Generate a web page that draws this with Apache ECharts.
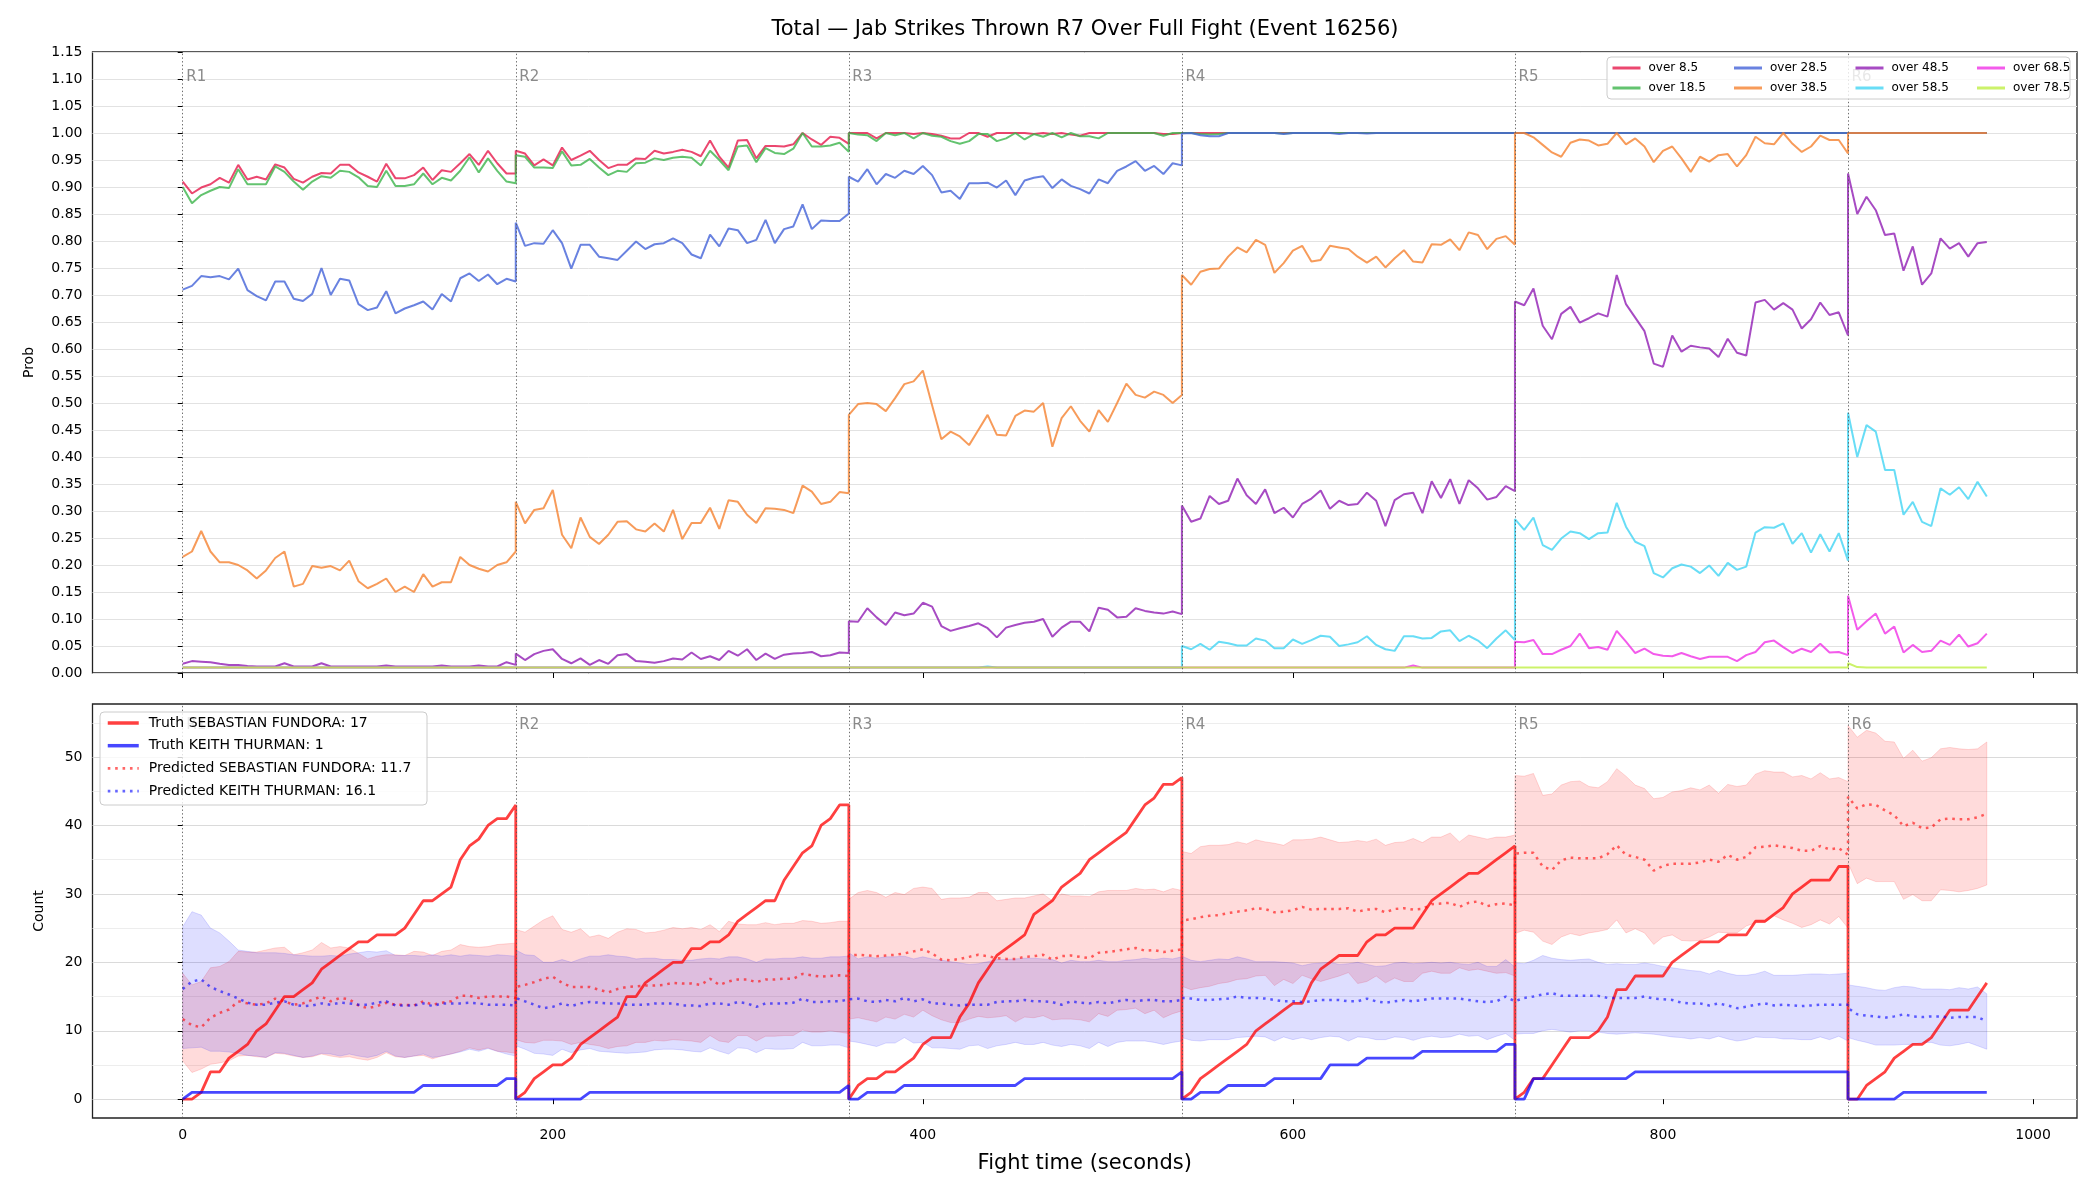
<!DOCTYPE html>
<html>
<head>
<meta charset="utf-8">
<title>Jab Strikes Thrown R7</title>
<script src="https://cdn.jsdelivr.net/npm/echarts@6.0.0/dist/echarts.min.js"></script>
<style>
  html, body { margin: 0; padding: 0; background: #fff; }
  #chart { width: 2100px; height: 1200px; }
</style>
</head>
<body>
<div id="chart"></div>
<script>
// fight timeline: samples every 5 s inside each round, round boundaries repeated
const roundStarts = [0, 180, 360, 540, 720, 900];
const roundNames = ["R1", "R2", "R3", "R4", "R5", "R6"];
const stepSec = 5;
const timeTicks = [0, 200, 400, 600, 800, 1000];
const countTicks = [0, 10, 20, 30, 40, 50];

// ---- top panel: P(total jabs > line), one list per round ----
const over85 = [
  [0.91,0.888,0.899,0.905,0.917,0.908,0.941,0.914,0.919,0.914,0.942,0.936,0.915,0.908,0.919,0.926,0.925,0.941,0.941,0.927,0.919,0.91,0.943,0.916,0.916,0.922,0.936,0.913,0.931,0.928,0.944,0.961,0.941,0.967,0.944,0.925,0.925],
  [0.967,0.962,0.94,0.951,0.94,0.973,0.95,0.958,0.967,0.95,0.935,0.941,0.941,0.953,0.952,0.967,0.962,0.965,0.969,0.965,0.957,0.986,0.956,0.936,0.986,0.987,0.953,0.976,0.976,0.975,0.979,1.0,0.988,0.978,0.993,0.991,0.98],
  [1,1,1,0.99,1,1,1,0.998,1,0.998,0.995,0.99,0.99,1,1,0.993,1,1,1,1,0.998,1,0.998,1,0.997,0.995,1,1,1,1,1,1,1,1,0.998,0.998,1],
  [1,1,1,1,1,1,1,1,1,1,1,1,1,1,1,1,1,1,1,1,1,1,1,1,1,1,1,1,1,1,1,1,1,1,1,1,1],
  [1,1,1,1,1,1,1,1,1,1,1,1,1,1,1,1,1,1,1,1,1,1,1,1,1,1,1,1,1,1,1,1,1,1,1,1,1],
  [1,1,1,1,1,1,1,1,1,1,1,1,1,1,1,1]
];
const over185 = [
  [0.90,0.87,0.885,0.893,0.90,0.898,0.933,0.905,0.905,0.905,0.938,0.928,0.91,0.895,0.91,0.92,0.917,0.93,0.928,0.918,0.902,0.90,0.93,0.902,0.902,0.905,0.925,0.905,0.917,0.912,0.93,0.955,0.927,0.953,0.93,0.91,0.907],
  [0.959,0.956,0.936,0.936,0.935,0.966,0.94,0.941,0.952,0.936,0.922,0.93,0.928,0.944,0.945,0.953,0.95,0.954,0.956,0.954,0.94,0.967,0.95,0.931,0.975,0.977,0.946,0.972,0.963,0.961,0.971,1.0,0.975,0.975,0.977,0.982,0.965],
  [1.0,0.997,0.996,0.985,1.0,0.996,1.0,0.99,1.0,0.995,0.993,0.985,0.98,0.985,0.998,0.998,0.985,0.99,1.0,0.988,0.998,0.993,1.0,0.992,1.0,0.994,0.994,0.99,1.0,1.0,1.0,1.0,1.0,1.0,0.995,1.0,1.0],
  [1,1,0.998,0.997,0.998,1,1,1,1,1,1,0.999,1,1,1,1,1,1,1,1,1,1,1,1,1,1,1,1,1,1,1,1,1,1,1,1,1],
  [1,1,1,1,1,1,1,1,1,1,1,1,1,1,1,1,1,1,1,1,1,1,1,1,1,1,1,1,1,1,1,1,1,1,1,1,1],
  [1,1,1,1,1,1,1,1,1,1,1,1,1,1,1,1]
];
const over285 = [
  [0.71,0.717,0.735,0.733,0.735,0.729,0.749,0.709,0.698,0.69,0.725,0.725,0.693,0.689,0.702,0.75,0.70,0.73,0.727,0.683,0.672,0.677,0.707,0.666,0.675,0.681,0.688,0.673,0.702,0.688,0.731,0.74,0.726,0.738,0.72,0.73,0.725],
  [0.834,0.791,0.796,0.795,0.82,0.796,0.749,0.793,0.793,0.771,0.768,0.765,0.782,0.799,0.785,0.794,0.796,0.805,0.796,0.775,0.768,0.812,0.79,0.823,0.82,0.796,0.802,0.839,0.796,0.822,0.827,0.868,0.822,0.838,0.837,0.837,0.851],
  [0.919,0.91,0.933,0.905,0.924,0.917,0.93,0.924,0.939,0.922,0.89,0.893,0.878,0.907,0.907,0.908,0.899,0.912,0.885,0.912,0.917,0.92,0.898,0.914,0.902,0.896,0.888,0.914,0.907,0.93,0.938,0.948,0.93,0.939,0.924,0.944,0.94],
  [0.999,1,0.996,0.994,0.994,1,1,1,1,1,1,0.998,1,1,1,1,1,0.998,1,1,0.999,1,1,1,1,1,1,1,1,1,1,1,1,1,1,1,1],
  [0.999,1,1,1,1,1,1,1,1,1,1,1,1,1,1,1,1,1,1,1,1,1,1,1,1,1,1,1,1,1,1,1,1,1,1,1,1],
  [1,1,1,1,1,1,1,1,1,1,1,1,1,1,1,1]
];
const over385 = [
  [0.215,0.225,0.263,0.225,0.205,0.205,0.2,0.19,0.175,0.19,0.213,0.225,0.16,0.165,0.198,0.195,0.198,0.19,0.208,0.17,0.157,0.165,0.175,0.15,0.16,0.15,0.183,0.16,0.168,0.168,0.215,0.2,0.193,0.188,0.2,0.205,0.225],
  [0.317,0.277,0.302,0.305,0.339,0.256,0.231,0.288,0.252,0.239,0.256,0.28,0.281,0.266,0.262,0.277,0.262,0.302,0.248,0.278,0.278,0.306,0.267,0.32,0.317,0.293,0.278,0.305,0.304,0.302,0.296,0.347,0.336,0.313,0.317,0.335,0.333],
  [0.478,0.498,0.50,0.498,0.485,0.509,0.535,0.54,0.56,0.496,0.433,0.447,0.438,0.422,0.45,0.478,0.441,0.44,0.476,0.486,0.484,0.50,0.419,0.472,0.494,0.467,0.447,0.487,0.465,0.50,0.536,0.515,0.51,0.521,0.515,0.50,0.515],
  [0.737,0.719,0.743,0.748,0.749,0.771,0.788,0.779,0.802,0.793,0.741,0.759,0.782,0.791,0.762,0.765,0.791,0.788,0.785,0.771,0.76,0.771,0.751,0.768,0.783,0.762,0.76,0.794,0.793,0.803,0.783,0.816,0.811,0.785,0.804,0.809,0.793],
  [1.0,1.0,0.992,0.978,0.964,0.956,0.982,0.988,0.986,0.977,0.98,1.0,0.979,0.99,0.975,0.946,0.967,0.975,0.953,0.928,0.956,0.947,0.959,0.961,0.938,0.959,0.993,0.981,0.979,1.0,0.98,0.965,0.975,0.995,0.987,0.987,0.962],
  [1,1,1,1,1,1,1,1,1,1,1,1,1,1,1,1]
];
const over485 = [
  [0.017,0.022,0.021,0.02,0.017,0.015,0.015,0.013,0.012,0.012,0.012,0.018,0.012,0.012,0.012,0.018,0.012,0.012,0.012,0.012,0.012,0.012,0.014,0.012,0.012,0.012,0.012,0.012,0.014,0.012,0.012,0.012,0.014,0.012,0.012,0.02,0.015],
  [0.036,0.024,0.035,0.041,0.044,0.026,0.018,0.027,0.015,0.024,0.017,0.033,0.035,0.022,0.021,0.019,0.022,0.027,0.025,0.038,0.026,0.031,0.024,0.041,0.032,0.044,0.024,0.036,0.026,0.034,0.036,0.037,0.039,0.031,0.033,0.038,0.037],
  [0.096,0.095,0.12,0.103,0.089,0.112,0.107,0.11,0.13,0.123,0.087,0.078,0.083,0.087,0.092,0.083,0.066,0.084,0.089,0.093,0.095,0.1,0.067,0.084,0.095,0.095,0.077,0.121,0.117,0.103,0.104,0.12,0.115,0.112,0.11,0.114,0.109],
  [0.31,0.28,0.286,0.328,0.313,0.319,0.36,0.329,0.313,0.34,0.296,0.306,0.288,0.313,0.323,0.338,0.304,0.319,0.311,0.313,0.334,0.319,0.272,0.32,0.331,0.334,0.296,0.355,0.324,0.359,0.313,0.357,0.342,0.321,0.326,0.346,0.337],
  [0.688,0.681,0.712,0.643,0.618,0.665,0.678,0.649,0.657,0.666,0.66,0.737,0.683,0.658,0.633,0.573,0.567,0.625,0.595,0.606,0.603,0.601,0.585,0.619,0.593,0.588,0.686,0.691,0.673,0.685,0.673,0.638,0.655,0.686,0.663,0.668,0.625],
  [0.925,0.85,0.882,0.857,0.811,0.814,0.745,0.79,0.719,0.74,0.805,0.786,0.796,0.771,0.796,0.798]
];
const over585 = [
  [0.01,0.01,0.01,0.01,0.01,0.01,0.01,0.01,0.01,0.01,0.01,0.01,0.01,0.01,0.01,0.01,0.01,0.01,0.01,0.01,0.01,0.01,0.01,0.01,0.01,0.01,0.01,0.01,0.01,0.01,0.01,0.01,0.01,0.01,0.01,0.01,0.01],
  [0.01,0.01,0.01,0.01,0.01,0.01,0.01,0.01,0.01,0.01,0.01,0.01,0.01,0.01,0.01,0.01,0.01,0.01,0.01,0.01,0.01,0.01,0.01,0.01,0.01,0.01,0.01,0.01,0.01,0.01,0.01,0.01,0.01,0.01,0.01,0.01,0.01],
  [0.01,0.01,0.01,0.01,0.01,0.01,0.01,0.01,0.01,0.01,0.01,0.01,0.01,0.01,0.01,0.012,0.01,0.01,0.01,0.01,0.01,0.01,0.01,0.01,0.01,0.01,0.01,0.01,0.01,0.01,0.01,0.01,0.01,0.01,0.01,0.01,0.01],
  [0.05,0.044,0.054,0.043,0.058,0.055,0.051,0.051,0.064,0.06,0.046,0.046,0.062,0.054,0.061,0.069,0.067,0.05,0.053,0.057,0.068,0.052,0.044,0.041,0.068,0.068,0.064,0.065,0.077,0.079,0.059,0.069,0.06,0.046,0.064,0.079,0.061],
  [0.285,0.265,0.288,0.237,0.228,0.249,0.262,0.259,0.248,0.259,0.26,0.315,0.271,0.243,0.235,0.185,0.177,0.194,0.201,0.197,0.185,0.199,0.18,0.204,0.191,0.197,0.26,0.27,0.269,0.277,0.239,0.259,0.223,0.257,0.225,0.259,0.208],
  [0.482,0.40,0.459,0.447,0.376,0.376,0.293,0.317,0.28,0.272,0.342,0.33,0.344,0.322,0.354,0.327]
];
const over685 = [
  [0.01,0.01,0.01,0.01,0.01,0.01,0.01,0.01,0.01,0.01,0.01,0.01,0.01,0.01,0.01,0.01,0.01,0.01,0.01,0.01,0.01,0.01,0.01,0.01,0.01,0.01,0.01,0.01,0.01,0.01,0.01,0.01,0.01,0.01,0.01,0.01,0.01],
  [0.01,0.01,0.01,0.01,0.01,0.01,0.01,0.01,0.01,0.01,0.01,0.01,0.01,0.01,0.01,0.01,0.01,0.01,0.01,0.01,0.01,0.01,0.01,0.01,0.01,0.01,0.01,0.01,0.01,0.01,0.01,0.01,0.01,0.01,0.01,0.01,0.01],
  [0.01,0.01,0.01,0.01,0.01,0.01,0.01,0.01,0.01,0.01,0.01,0.01,0.01,0.01,0.01,0.01,0.01,0.01,0.01,0.01,0.01,0.01,0.01,0.01,0.01,0.01,0.01,0.01,0.01,0.01,0.01,0.01,0.01,0.01,0.01,0.01,0.01],
  [0.01,0.01,0.01,0.01,0.01,0.01,0.01,0.01,0.01,0.01,0.01,0.01,0.01,0.01,0.01,0.01,0.01,0.01,0.01,0.01,0.01,0.01,0.01,0.01,0.01,0.014,0.01,0.01,0.01,0.01,0.01,0.01,0.01,0.01,0.01,0.01,0.01],
  [0.058,0.057,0.061,0.035,0.035,0.043,0.05,0.073,0.046,0.048,0.043,0.078,0.058,0.037,0.045,0.035,0.032,0.031,0.037,0.031,0.026,0.03,0.03,0.03,0.022,0.033,0.039,0.057,0.06,0.048,0.037,0.045,0.039,0.054,0.038,0.039,0.033],
  [0.143,0.08,0.096,0.11,0.073,0.086,0.038,0.052,0.039,0.041,0.06,0.052,0.071,0.049,0.055,0.073]
];
const over785 = [
  [0.01,0.01,0.01,0.01,0.01,0.01,0.01,0.01,0.01,0.01,0.01,0.01,0.01,0.01,0.01,0.01,0.01,0.01,0.01,0.01,0.01,0.01,0.01,0.01,0.01,0.01,0.01,0.01,0.01,0.01,0.01,0.01,0.01,0.01,0.01,0.01,0.01],
  [0.01,0.01,0.01,0.01,0.01,0.01,0.01,0.01,0.01,0.01,0.01,0.01,0.01,0.01,0.01,0.01,0.01,0.01,0.01,0.01,0.01,0.01,0.01,0.01,0.01,0.01,0.01,0.01,0.01,0.01,0.01,0.01,0.01,0.01,0.01,0.01,0.01],
  [0.01,0.01,0.01,0.01,0.01,0.01,0.01,0.01,0.01,0.01,0.01,0.01,0.01,0.01,0.01,0.01,0.01,0.01,0.01,0.01,0.01,0.01,0.01,0.01,0.01,0.01,0.01,0.01,0.01,0.01,0.01,0.01,0.01,0.01,0.01,0.01,0.01],
  [0.01,0.01,0.01,0.01,0.01,0.01,0.01,0.01,0.01,0.01,0.01,0.01,0.01,0.01,0.01,0.01,0.01,0.01,0.01,0.01,0.01,0.01,0.01,0.01,0.01,0.01,0.01,0.01,0.01,0.01,0.01,0.01,0.01,0.01,0.01,0.01,0.01],
  [0.01,0.01,0.01,0.01,0.01,0.01,0.01,0.01,0.01,0.01,0.01,0.01,0.01,0.01,0.01,0.01,0.01,0.01,0.01,0.01,0.01,0.01,0.01,0.01,0.01,0.01,0.01,0.01,0.01,0.01,0.01,0.01,0.01,0.01,0.01,0.01,0.01],
  [0.018,0.011,0.01,0.01,0.01,0.01,0.01,0.01,0.01,0.01,0.01,0.01,0.01,0.01,0.01,0.01]
];

// ---- bottom panel: cumulative jabs per round ----
const truthFundora = [
  [0,0,1,4,4,6,7,8,10,11,13,15,15,16,17,19,20,21,22,23,23,24,24,24,25,27,29,29,30,31,35,37,38,40,41,41,43],
  [0,1,3,4,5,5,6,8,9,10,11,12,15,15,17,18,19,20,20,22,22,23,23,24,26,27,28,29,29,32,34,36,37,40,41,43,43],
  [0,2,3,3,4,4,5,6,8,9,9,9,12,14,17,19,21,22,23,24,27,28,29,31,32,33,35,36,37,38,39,41,43,44,46,46,47],
  [0,1,3,4,5,6,7,8,10,11,12,13,14,14,17,19,20,21,21,21,23,24,24,25,25,25,27,29,30,31,32,33,33,34,35,36,37],
  [0,1,3,3,5,7,9,9,9,10,12,16,16,18,18,18,18,20,21,22,23,23,23,24,24,24,26,26,27,28,30,31,32,32,32,34,34],
  [0,0,2,3,4,6,7,8,8,9,11,13,13,13,15,17]
];
const truthThurman = [
  [0,1,1,1,1,1,1,1,1,1,1,1,1,1,1,1,1,1,1,1,1,1,1,1,1,1,2,2,2,2,2,2,2,2,2,3,3],
  [0,0,0,0,0,0,0,0,1,1,1,1,1,1,1,1,1,1,1,1,1,1,1,1,1,1,1,1,1,1,1,1,1,1,1,1,2],
  [0,0,1,1,1,1,2,2,2,2,2,2,2,2,2,2,2,2,2,3,3,3,3,3,3,3,3,3,3,3,3,3,3,3,3,3,4],
  [0,0,1,1,1,2,2,2,2,2,3,3,3,3,3,3,5,5,5,5,6,6,6,6,6,6,7,7,7,7,7,7,7,7,7,8,8],
  [0,0,3,3,3,3,3,3,3,3,3,3,3,4,4,4,4,4,4,4,4,4,4,4,4,4,4,4,4,4,4,4,4,4,4,4,4],
  [0,0,0,0,0,0,1,1,1,1,1,1,1,1,1,1]
];
const predFundora = [
  [11.7,10.8,10.5,11.9,12.6,13.1,14.3,14.0,13.8,14.0,14.7,14.3,13.8,14.0,14.5,15.0,14.3,14.8,14.6,13.7,13.3,13.6,14.1,13.8,13.8,13.7,14.3,13.8,14.1,14.3,15.1,15.1,14.8,15.0,15.0,15.0,14.8],
  [16.4,16.7,17.1,17.6,17.9,17.0,16.4,16.4,16.4,16.0,15.6,16.1,16.4,16.5,16.6,16.6,16.7,17.0,16.9,16.9,16.7,17.6,16.7,17.2,17.5,17.5,17.1,17.5,17.5,17.6,17.6,18.3,18.1,17.9,18.0,18.1,18.0],
  [21.0,21.1,21.0,20.9,21.0,21.1,21.3,21.6,21.9,21.3,20.4,20.3,20.5,20.8,21.1,20.9,20.6,20.5,20.5,20.8,20.9,21.1,20.4,20.9,21.0,20.8,20.6,21.4,21.5,21.7,21.9,22.1,21.7,21.8,21.5,21.7,21.9],
  [26.1,26.3,26.6,26.8,26.9,27.2,27.4,27.6,27.9,27.8,27.3,27.4,27.6,28.1,27.7,27.8,27.8,27.8,27.9,27.4,27.7,27.8,27.3,27.8,27.9,27.7,27.8,28.5,28.6,28.7,28.1,28.7,28.9,28.2,28.5,28.6,28.3],
  [35.9,36.0,36.0,34.0,33.5,34.9,35.3,35.2,35.2,35.2,35.8,37.1,35.7,35.4,35.0,33.4,34.1,34.4,34.4,34.4,34.6,35.0,34.7,35.7,35.0,35.4,36.8,36.9,37.1,36.9,36.7,36.3,36.3,37.0,36.5,36.7,35.7],
  [44.2,42.5,43.1,43.0,42.2,41.5,39.9,40.4,39.6,39.7,40.9,41.0,40.9,40.9,41.2,41.7]
];
const predThurman = [
  [16.1,17.2,17.5,16.4,15.8,15.3,14.7,14.1,13.8,13.8,14.1,14.3,13.8,13.6,13.7,14.0,13.8,14.1,14.0,13.8,13.8,14.1,14.3,13.7,13.7,13.7,14.0,13.6,14.0,14.0,14.0,14.1,14.0,13.8,13.8,13.8,13.7],
  [14.8,14.3,13.8,13.3,13.5,14.0,13.6,14.0,14.2,14.1,14.0,14.0,13.8,13.8,13.8,14.0,14.0,14.0,13.7,13.7,13.6,14.0,14.0,13.8,14.2,14.0,13.5,14.0,14.0,14.0,14.1,14.7,14.2,14.2,14.3,14.3,14.6],
  [14.6,14.7,14.3,14.2,14.5,14.3,14.8,14.3,14.6,14.0,14.0,13.8,13.7,13.8,13.8,13.8,14.2,14.3,14.3,14.5,14.3,14.3,14.2,13.8,14.3,14.1,14.0,14.2,14.0,14.3,14.5,14.3,14.5,14.5,14.3,14.3,14.5],
  [14.8,14.7,14.5,14.5,14.6,14.7,15.0,14.8,14.8,14.7,14.5,14.3,14.3,14.2,14.3,14.5,14.5,14.5,14.3,14.3,14.7,14.3,14.1,14.3,14.5,14.3,14.5,14.7,14.7,14.7,14.7,14.5,14.3,14.2,14.3,15.0,14.3],
  [14.2,14.8,15.0,15.3,15.5,15.1,15.1,15.1,15.1,15.1,14.8,14.8,14.8,14.8,15.0,14.7,14.6,14.5,14.1,14.0,14.0,13.7,14.0,13.7,13.3,13.5,13.8,14.0,13.7,13.8,13.7,13.6,13.7,13.8,13.8,13.8,13.8],
  [13.3,12.4,12.2,12.1,11.9,12.1,12.4,12.1,12.0,12.1,12.1,11.9,12.0,12.0,12.0,11.4]
];
const bandFundoraLow = [
  [5.6,3.9,4.4,5.1,5.3,5.6,6.3,6.4,6.2,6.1,6.7,6.6,6.3,6.1,6.2,6.6,6.3,6.1,6.2,5.9,5.7,6.1,6.8,6.2,6.1,6.3,6.4,5.9,6.3,6.6,7.0,7.5,7.2,7.5,7.0,6.9,6.7],
  [8.7,8.3,8.2,8.6,8.6,8.5,8.0,8.3,8.0,7.8,7.4,7.7,7.8,8.3,8.3,8.6,8.5,8.7,8.6,8.5,8.3,9.3,8.5,8.3,9.3,9.3,8.5,9.2,9.2,9.3,9.3,10.1,9.8,9.8,10.0,9.8,9.6],
  [11.7,11.9,11.6,11.3,12.0,11.7,12.4,12.0,13.0,12.2,11.6,11.2,11.2,11.7,12.1,11.9,12.0,12.2,11.3,12.0,11.9,12.2,11.6,11.7,11.7,11.6,11.3,12.5,12.1,13.0,13.1,13.3,12.5,13.0,11.9,12.5,12.9],
  [16.5,16.0,16.3,16.5,16.9,17.1,17.5,17.6,18.0,18.1,16.6,17.5,16.9,18.1,17.6,17.2,17.6,18.0,18.5,16.9,17.2,18.0,17.0,17.7,17.2,17.2,18.4,18.7,18.4,18.4,19.2,18.8,19.0,18.7,18.4,18.5,18.0],
  [24.2,24.7,24.4,23.1,22.6,23.7,24.2,23.9,24.3,24.5,24.8,26.2,24.3,24.9,24.3,22.6,23.7,24.0,23.2,23.1,23.2,23.7,24.4,24.3,24.3,25.3,25.8,25.8,26.8,26.2,25.7,25.1,25.5,26.2,25.6,26.7,25.0],
  [34.5,31.5,32.3,31.8,31.8,31.8,29.2,29.9,29.0,29.0,30.6,30.5,30.3,30.5,30.8,31.3]
];
const bandFundoraHigh = [
  [18.4,16.7,17.2,19.2,19.4,20.1,21.6,21.5,21.5,21.8,22.1,22.2,21.1,21.4,21.8,22.9,22.1,22.3,22.1,21.3,20.5,20.9,21.1,21.1,21.0,21.6,21.5,21.0,21.6,21.8,22.6,22.3,22.2,22.3,22.6,22.7,22.8],
  [24.8,24.4,25.3,26.2,26.8,24.8,24.4,24.9,23.7,24.0,23.5,24.4,24.9,24.8,24.3,24.4,24.7,25.1,24.9,25.1,24.8,25.5,24.5,26.0,25.6,25.5,25.5,25.8,25.5,25.7,25.7,26.1,26.0,25.7,25.8,26.0,26.0],
  [29.2,30.2,30.5,30.2,29.5,30.2,29.9,30.8,31.0,30.8,29.2,29.4,29.4,29.5,30.2,30.2,29.0,29.2,29.4,29.4,29.7,30.0,29.0,30.0,29.7,29.7,29.6,30.3,30.5,30.5,30.5,30.8,30.6,30.7,30.3,30.8,30.5],
  [36.2,35.9,36.9,37.1,37.1,37.2,37.6,37.3,37.9,37.6,37.4,37.1,37.9,37.9,38.0,38.3,37.9,37.5,37.6,37.8,37.6,38.0,37.1,37.5,37.6,38.1,37.5,38.3,38.3,38.9,37.6,38.6,38.3,38.0,38.3,38.3,38.6],
  [47.3,47.2,47.6,44.4,44.6,45.9,46.4,46.5,45.7,45.5,46.4,48.3,47.2,45.9,45.4,43.9,44.1,44.9,45.1,45.5,45.2,45.9,44.7,46.0,45.7,45.9,47.5,48.0,47.8,47.8,47.1,47.3,46.8,47.7,46.8,47.0,46.4],
  [54.6,52.9,53.9,53.5,52.3,52.2,49.8,51.0,49.4,49.9,51.2,51.4,51.2,51.1,51.2,52.2]
];
const bandThurmanLow = [
  [7.4,7.5,7.6,7.0,7.0,6.9,6.7,6.4,6.3,6.1,6.8,6.7,6.4,6.1,6.3,6.7,6.6,6.3,6.6,6.3,6.1,6.4,7.0,6.3,6.1,6.3,6.6,6.1,6.3,6.6,6.9,7.3,7.0,7.4,7.0,6.6,6.3],
  [7.8,7.3,6.7,6.6,6.4,7.3,6.8,7.2,7.4,7.0,6.9,6.8,6.7,6.8,6.9,7.2,7.3,7.3,7.2,7.0,6.9,7.5,7.0,6.6,7.5,7.4,6.8,7.4,7.3,7.3,7.4,8.3,7.8,7.8,7.9,7.9,7.5],
  [8.5,8.3,8.0,7.7,8.2,8.2,9.0,8.2,8.3,7.5,7.5,7.4,7.3,7.8,7.9,7.4,7.8,8.0,8.3,8.0,8.0,8.3,7.9,7.7,8.0,7.8,7.4,8.3,7.7,8.3,8.5,8.5,8.5,8.3,8.0,8.3,8.5],
  [9.0,8.6,8.5,8.7,8.7,8.7,9.0,9.1,9.2,9.1,8.5,9.1,8.7,9.0,8.7,9.0,9.2,9.1,8.5,9.1,9.0,8.7,8.7,9.1,9.0,8.6,9.0,9.2,9.0,9.1,9.5,9.2,9.3,8.7,9.2,9.6,8.6],
  [9.5,9.6,9.6,10.0,10.2,10.0,9.8,10.0,10.0,9.8,9.6,9.5,9.6,9.7,9.6,9.5,9.3,9.1,9.0,8.8,9.0,8.8,9.2,8.8,8.5,8.7,9.1,9.0,9.0,8.8,8.8,8.7,8.7,9.1,8.7,9.2,8.5],
  [9.0,8.6,8.3,7.9,7.9,7.9,8.0,8.0,8.3,8.3,7.9,7.8,8.0,8.3,7.8,7.3]
];
const bandThurmanHigh = [
  [25.2,27.4,26.9,25.0,24.3,23.1,21.8,21.6,21.4,21.4,21.4,21.3,21.1,21.0,20.9,20.9,21.0,20.9,21.2,21.4,21.6,21.5,21.7,21.0,21.0,21.0,20.9,21.1,20.9,21.1,20.9,21.1,21.0,20.9,21.1,21.0,20.9],
  [21.8,21.1,21.0,20.0,20.0,20.4,20.0,20.5,20.9,20.9,21.1,20.9,20.8,20.5,20.6,20.6,20.4,20.4,20.3,20.3,20.5,20.6,20.5,20.8,20.8,20.5,20.0,20.5,20.5,20.6,20.6,20.8,20.6,20.6,20.8,20.8,20.9],
  [21.4,20.5,20.8,20.6,20.8,20.8,20.9,20.5,20.8,20.5,20.3,20.1,19.9,19.7,19.8,20.1,20.4,20.4,20.5,20.6,20.6,20.5,20.4,19.9,20.3,20.1,20.1,20.3,20.1,20.1,20.3,20.4,20.6,20.4,20.6,20.5,20.8],
  [20.9,20.3,20.1,20.3,20.5,20.4,20.8,20.5,20.1,20.1,20.1,20.0,19.9,19.5,19.8,19.9,20.0,19.7,19.8,20.0,19.7,19.4,19.5,19.9,20.0,19.8,19.9,20.0,19.9,20.0,19.8,19.7,20.0,19.4,19.4,20.4,19.3],
  [19.9,19.8,20.3,21.0,20.6,20.4,20.3,20.4,20.5,20.0,19.7,19.8,19.7,19.7,19.9,19.7,19.4,19.2,19.0,18.8,18.7,18.3,18.8,18.4,18.1,18.1,18.3,18.7,18.1,18.1,18.1,18.2,18.3,18.3,18.2,18.3,18.4],
  [16.7,16.5,16.3,16.0,15.9,16.3,16.5,16.4,16.1,16.1,16.1,16.0,16.3,16.1,16.4,15.4]
];

const FONT = "DejaVu Sans";

// attach the sample time to each value, round by round
function withTime(rounds) {
  const out = [];
  rounds.forEach((vals, r) => {
    vals.forEach((v, i) => out.push([roundStarts[r] + i * stepSec, v]));
  });
  return out;
}

const probLines = [
  ["over 8.5", over85, "#e6194b"],
  ["over 18.5", over185, "#3cb44b"],
  ["over 28.5", over285, "#4363d8"],
  ["over 38.5", over385, "#f58231"],
  ["over 48.5", over485, "#911eb4"],
  ["over 58.5", over585, "#42d4f4"],
  ["over 68.5", over685, "#f032e6"],
  ["over 78.5", over785, "#bfef45"],
];

const nameTruthF = "Truth SEBASTIAN FUNDORA: 17";
const nameTruthT = "Truth KEITH THURMAN: 1";
const namePredF = "Predicted SEBASTIAN FUNDORA: 11.7";
const namePredT = "Predicted KEITH THURMAN: 16.1";

function bandSeries(lo, hi, color) {
  const lower = withTime(lo);
  const upper = withTime(hi);
  const data = upper.map((p, i) => [p[0], lower[i][1], p[1]]);
  return {
    type: "custom",
    xAxisIndex: 1,
    yAxisIndex: 1,
    silent: true,
    z: 1,
    data: data,
    encode: { x: 0, y: [1, 2] },
    renderItem: (params, api) => {
      if (params.dataIndex !== 0) return null;
      const top = data.map((d) => api.coord([d[0], d[2]]));
      const bottom = data.map((d) => api.coord([d[0], d[1]])).reverse();
      return {
        type: "polygon",
        shape: { points: top.concat(bottom) },
        style: { fill: color, stroke: color, lineWidth: 1 },
      };
    },
  };
}

function roundMarks(gridIdx, labelY) {
  return {
    type: "scatter",
    xAxisIndex: gridIdx,
    yAxisIndex: gridIdx,
    silent: true,
    z: 6,
    symbolSize: 1,
    itemStyle: { color: "transparent" },
    data: roundStarts.map((t) => [t, labelY]),
    label: {
      show: true,
      position: "right",
      distance: 3,
      formatter: (p) => roundNames[p.dataIndex],
      color: "#6e6e6e",
      fontSize: 15,
      fontFamily: FONT,
    },
    markLine: {
      silent: true,
      symbol: ["none", "none"],
      label: { show: false },
      lineStyle: { type: [1.4, 2.3], color: "#555", width: 1, opacity: 0.85 },
      data: roundStarts.map((t) => ({ xAxis: t })),
    },
  };
}

const series = [];
probLines.forEach(([name, vals, color]) => {
  series.push({
    name: name,
    type: "line",
    xAxisIndex: 0,
    yAxisIndex: 0,
    data: withTime(vals),
    symbol: "none",
    showSymbol: false,
    color: color,
    lineStyle: { width: 2, color: color, opacity: 0.8 },
    z: 2,
  });
});
series.push(roundMarks(0, 1.103));

series.push(bandSeries(bandFundoraLow, bandFundoraHigh, "rgba(255,0,0,0.14)"));
series.push(bandSeries(bandThurmanLow, bandThurmanHigh, "rgba(0,0,255,0.13)"));
series.push({
  name: nameTruthF, type: "line", xAxisIndex: 1, yAxisIndex: 1,
  data: withTime(truthFundora), symbol: "none", showSymbol: false,
  color: "rgba(255,0,0,0.75)",
  lineStyle: { width: 2.8, color: "rgba(255,0,0,0.75)" }, z: 3,
});
series.push({
  name: nameTruthT, type: "line", xAxisIndex: 1, yAxisIndex: 1,
  data: withTime(truthThurman), symbol: "none", showSymbol: false,
  color: "rgba(0,0,255,0.72)",
  lineStyle: { width: 2.8, color: "rgba(0,0,255,0.72)" }, z: 3,
});
series.push({
  name: namePredF, type: "line", xAxisIndex: 1, yAxisIndex: 1,
  data: withTime(predFundora), symbol: "none", showSymbol: false,
  color: "rgba(255,0,0,0.6)",
  lineStyle: { width: 2.5, color: "rgba(255,0,0,0.6)", type: [2.6, 4.8], cap: "butt" }, z: 4,
});
series.push({
  name: namePredT, type: "line", xAxisIndex: 1, yAxisIndex: 1,
  data: withTime(predThurman), symbol: "none", showSymbol: false,
  color: "rgba(0,0,255,0.6)",
  lineStyle: { width: 2.5, color: "rgba(0,0,255,0.6)", type: [2.6, 4.8], cap: "butt" }, z: 4,
});
series.push(roundMarks(1, 54.7));

const tickStyle = { show: true, length: 5, lineStyle: { color: "#000", width: 1 } };
const labelStyle = { color: "#000", fontSize: 14, fontFamily: FONT, margin: 10 };
// legend icons: line only, hide the marker ECharts adds in the middle
const noMarker = { color: "transparent", borderColor: "transparent", borderWidth: 0 };

const option = {
  animation: false,
  backgroundColor: "#fff",
  textStyle: { fontFamily: FONT },
  title: {
    text: "Total — Jab Strikes Thrown R7 Over Full Fight (Event 16256)",
    left: 1085,
    top: 19,
    textAlign: "center",
    padding: 0,
    textStyle: { fontSize: 21, fontWeight: "normal", color: "#000", fontFamily: FONT },
  },
  grid: [
    { left: 92.5, top: 52, width: 1984.5, height: 621, show: true, borderColor: "#222", borderWidth: 1.3, backgroundColor: "transparent" },
    { left: 92.5, top: 704, width: 1984.5, height: 414, show: true, borderColor: "#222", borderWidth: 1.3, backgroundColor: "transparent" },
  ],
  xAxis: [
    {
      type: "value", gridIndex: 0, min: -48.75, max: 1023.75, splitNumber: 5,
      axisLine: { show: false }, splitLine: { show: false },
      axisTick: Object.assign({ customValues: timeTicks }, tickStyle),
      axisLabel: { show: false },
    },
    {
      type: "value", gridIndex: 1, min: -48.75, max: 1023.75, splitNumber: 5,
      axisLine: { show: false }, splitLine: { show: false },
      axisTick: Object.assign({ customValues: timeTicks }, tickStyle),
      axisLabel: Object.assign({ customValues: timeTicks, formatter: (v) => String(v) }, labelStyle),
      name: "Fight time (seconds)", nameLocation: "middle", nameGap: 35,
      nameTextStyle: { fontSize: 21, color: "#000", fontFamily: FONT },
    },
  ],
  yAxis: [
    {
      type: "value", gridIndex: 0, min: 0, max: 1.15, interval: 0.05,
      axisLine: { show: false },
      axisTick: tickStyle,
      axisLabel: Object.assign({ formatter: (v) => v.toFixed(2) }, labelStyle),
      splitLine: { show: true, lineStyle: { color: "#e2e2e2", width: 1 } },
      name: "Prob", nameLocation: "middle", nameGap: 56,
      nameTextStyle: { fontSize: 14, color: "#000", fontFamily: FONT },
    },
    {
      type: "value", gridIndex: 1, min: -2.75, max: 57.75, splitNumber: 6,
      axisLine: { show: false },
      axisTick: Object.assign({ customValues: countTicks }, tickStyle),
      axisLabel: Object.assign({ customValues: countTicks, formatter: (v) => String(v) }, labelStyle),
      splitLine: { show: true, lineStyle: { color: "#dadada", width: 1 } },
      minorTick: { show: false, splitNumber: 2 },
      minorSplitLine: { show: true, lineStyle: { color: "#ededed", width: 1 } },
      name: "Count", nameLocation: "middle", nameGap: 46,
      nameTextStyle: { fontSize: 14, color: "#000", fontFamily: FONT },
    },
  ],
  legend: [
    {
      data: ["over 8.5", "over 28.5", "over 48.5", "over 68.5"],
      left: 1611, top: 61, padding: 0, orient: "horizontal", selectedMode: false, z: 110,
      itemWidth: 28, itemHeight: 10, itemGap: 17, itemStyle: noMarker,
      lineStyle: { width: 3 },
      textStyle: { fontSize: 12, color: "#000", fontFamily: FONT, width: 67, lineHeight: 14, padding: [0, 0, 0, 3] },
    },
    {
      data: ["over 18.5", "over 38.5", "over 58.5", "over 78.5"],
      left: 1611, top: 81, padding: 0, orient: "horizontal", selectedMode: false, z: 110,
      itemWidth: 28, itemHeight: 10, itemGap: 17, itemStyle: noMarker,
      lineStyle: { width: 3 },
      textStyle: { fontSize: 12, color: "#000", fontFamily: FONT, width: 67, lineHeight: 14, padding: [0, 0, 0, 3] },
    },
    {
      data: [
        { name: nameTruthF, lineStyle: { width: 3.5 } },
        { name: nameTruthT, lineStyle: { width: 3.5 } },
        { name: namePredF, lineStyle: { width: 2.8 } },
        { name: namePredT, lineStyle: { width: 2.8 } },
      ],
      left: 106, top: 715, padding: 0, orient: "vertical", selectedMode: false, z: 110,
      itemWidth: 31, itemHeight: 16, itemGap: 6.7, itemStyle: noMarker,
      textStyle: { fontSize: 14, color: "#000", fontFamily: FONT, lineHeight: 16, padding: [0, 0, 0, 5] },
    },
  ],
  graphic: [
    {
      type: "rect", z: 100, silent: true,
      shape: { x: 1607, y: 57, width: 463, height: 42, r: 4 },
      style: { fill: "rgba(255,255,255,0.8)", stroke: "#cccccc", lineWidth: 1 },
    },
    {
      type: "rect", z: 100, silent: true,
      shape: { x: 100, y: 712, width: 327, height: 93, r: 4 },
      style: { fill: "rgba(255,255,255,0.8)", stroke: "#cccccc", lineWidth: 1 },
    },
  ],
  series: series,
};

const chart = echarts.init(document.getElementById("chart"), null, { renderer: "canvas" });
chart.setOption(option);
</script>
</body>
</html>
